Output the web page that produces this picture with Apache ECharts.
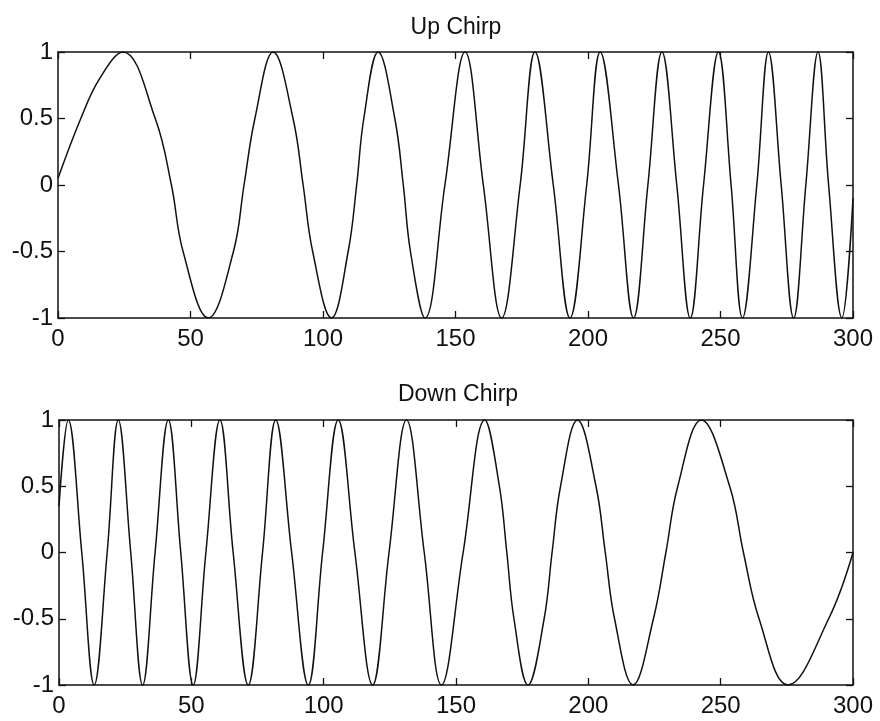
<!DOCTYPE html>
<html>
<head>
<meta charset="utf-8">
<title>Up Chirp / Down Chirp</title>
<script src="https://cdn.jsdelivr.net/npm/echarts@6/dist/echarts.min.js"></script>
<style>
  html, body { margin: 0; padding: 0; background: #ffffff; }
  #chart { width: 880px; height: 721px; }
</style>
</head>
<body>
<div id="chart"></div>
<script>
// Sample times and amplitudes: turning points, zero crossings and, on the slow lobes,
// the half-amplitude crossings of each chirp
const upChirpT = [0, 8.6, 15.7, 24.5, 36.7, 42.8, 47.2, 56.7, 66.2, 70.2, 74.3, 81.2, 88.7, 92.5, 96.1,
  103.2, 109.5, 112.7, 115.4, 120.8, 127.1, 130.3, 133.0, 138.5,
  146.0, 153.6, 160.5, 167.4, 174.4, 180.0, 186.9, 193.2, 199.5, 204.6, 211.5, 217.2, 222.6, 227.9,
  233.5, 238.6, 243.6, 249.2, 254.0, 258.3, 263.7, 268.1, 272.9, 277.6, 282.2, 286.8, 290.8, 295.8, 300];
const upChirpAmp = [0.05, 0.5, 0.8, 1, 0.5, 0, -0.5, -1, -0.5, 0, 0.5, 1, 0.5, 0, -0.5,
  -1, -0.5, 0, 0.5, 1, 0.5, 0, -0.5, -1,
  0, 1, 0, -1, 0, 1, 0, -1, 0, 1, 0, -1, 0, 1,
  0, -1, 0, 1, 0, -1, 0, 1, 0, -1, 0, 1, 0, -1, -0.1];

const downChirpT = [0, 3.5, 8.6, 13.3, 18.2, 22.4, 27.1, 31.6, 36.3, 41.3, 46.0, 50.7, 55.5, 60.8,
  65.8, 71.5, 76.9, 81.9, 87.9, 94.2, 99.6, 105.5, 111.8, 118.5, 124.7, 131.3, 138.0, 144.5,
  152.7, 160.9, 166.4, 169.2, 171.9, 177.2, 183.3, 186.3, 189.5, 195.9, 202.9, 206.4, 209.9,
  216.9, 224.6, 229.3, 233.8, 242.7, 253.4, 258.6, 264.5, 275.4, 290.8, 300];
const downChirpAmp = [0.35, 1, 0, -1, 0, 1, 0, -1, 0, 1, 0, -1, 0, 1,
  0, -1, 0, 1, 0, -1, 0, 1, 0, -1, 0, 1, 0, -1,
  0, 1, 0.5, 0, -0.5, -1, -0.5, 0, 0.5, 1, 0.5, 0, -0.5,
  -1, -0.5, 0, 0.5, 1, 0.5, 0, -0.5, -1, -0.5, 0];

const panelTitles = ['Up Chirp', 'Down Chirp'];
const xTickRange = { min: 0, max: 300, step: 50 };
const yTickRange = { min: -1, max: 1, step: 0.5 };

const FONT = '"Liberation Sans", Arial, Helvetica, sans-serif';
const INK = '#111111';

function pairs(ts, vs) {
  return ts.map((t, i) => [t, vs[i]]);
}

function xAxisFor(gridIndex, position, showLabels) {
  return {
    type: 'value', gridIndex, position,
    min: xTickRange.min, max: xTickRange.max, interval: xTickRange.step,
    axisLine: { show: true, onZero: false, lineStyle: { color: INK, width: 1.5 } },
    axisTick: { show: true, inside: true, length: 7, lineStyle: { color: INK, width: 1.3 } },
    axisLabel: { show: showLabels, color: INK, fontSize: 24, fontFamily: FONT, margin: 9 },
    splitLine: { show: false }
  };
}

function yAxisFor(gridIndex, position, showLabels) {
  return {
    type: 'value', gridIndex, position,
    min: yTickRange.min, max: yTickRange.max, interval: yTickRange.step,
    axisLine: { show: true, onZero: false, lineStyle: { color: INK, width: 1.5 } },
    axisTick: { show: true, inside: true, length: 7, lineStyle: { color: INK, width: 1.3 } },
    axisLabel: { show: showLabels, color: INK, fontSize: 24, fontFamily: FONT, margin: 5 },
    splitLine: { show: false }
  };
}

function chirpSeries(data, axisIdx) {
  return {
    type: 'line', data,
    xAxisIndex: axisIdx, yAxisIndex: axisIdx,
    smooth: 0.4, showSymbol: false, silent: true,
    lineStyle: { color: INK, width: 1.5 },
    animation: false
  };
}

const chart = echarts.init(document.getElementById('chart'), null, { renderer: 'canvas' });

chart.setOption({
  backgroundColor: '#ffffff',
  animation: false,
  title: [
    { text: panelTitles[0], left: 451, top: 11, textAlign: 'center',
      textStyle: { fontSize: 23, fontWeight: 'normal', color: INK, fontFamily: FONT } },
    { text: panelTitles[1], left: 453, top: 378, textAlign: 'center',
      textStyle: { fontSize: 23, fontWeight: 'normal', color: INK, fontFamily: FONT } }
  ],
  grid: [
    { left: 58, top: 52, width: 795, height: 266 },
    { left: 59, top: 420, width: 794, height: 265 }
  ],
  xAxis: [
    xAxisFor(0, 'bottom', true),
    xAxisFor(1, 'bottom', true),
    xAxisFor(0, 'top', false),
    xAxisFor(1, 'top', false)
  ],
  yAxis: [
    yAxisFor(0, 'left', true),
    yAxisFor(1, 'left', true),
    yAxisFor(0, 'right', false),
    yAxisFor(1, 'right', false)
  ],
  series: [
    chirpSeries(pairs(upChirpT, upChirpAmp), 0),
    chirpSeries(pairs(downChirpT, downChirpAmp), 1)
  ]
});
</script>
</body>
</html>
